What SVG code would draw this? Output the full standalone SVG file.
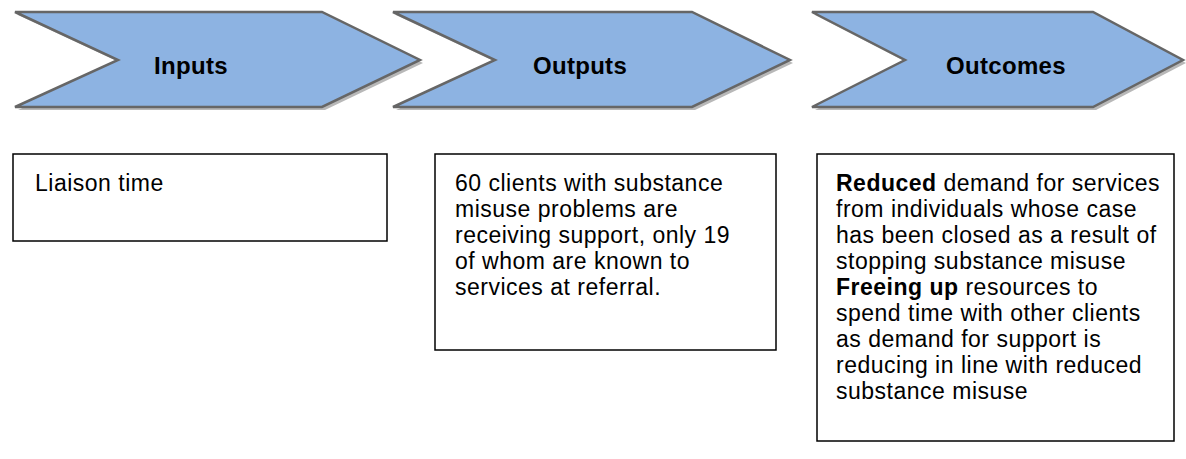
<svg xmlns="http://www.w3.org/2000/svg" width="1186" height="459" viewBox="0 0 1186 459">
<style>
.chev{fill:#8DB3E2;stroke:#666666;stroke-width:2.5;stroke-linejoin:miter}
.shadow{fill:#A6A6A6;opacity:0.8}
.head{font-family:"Liberation Sans",Arial,sans-serif;font-weight:bold;font-size:24px;letter-spacing:0.3px;fill:#000;text-anchor:middle}
.box{fill:#fff;stroke:#000;stroke-width:1.5}
.body{font-family:"Liberation Sans",Arial,sans-serif;font-size:23px;letter-spacing:0.5px;fill:#000}
.b{font-weight:bold}
</style>
<rect width="1186" height="459" fill="#fff"/>
<g id="chevron-inputs">
<polygon class="shadow" points="18,15 325,15 423,63 325,110 18,110 121,63"/>
<polygon class="chev" points="15,12 322,12 420,60 322,107 15,107 118,60"/>
<text class="head" x="191" y="74">Inputs</text>
</g>
<g id="chevron-outputs">
<polygon class="shadow" points="396,15 695,15 793,63 695,110 396,110 498,63"/>
<polygon class="chev" points="393,12 692,12 790,60 692,107 393,107 495,60"/>
<text class="head" x="580" y="74">Outputs</text>
</g>
<g id="chevron-outcomes">
<polygon class="shadow" points="815,15 1096,15 1186,63 1096,110 815,110 908,63"/>
<polygon class="chev" points="812,12 1093,12 1183,60 1093,107 812,107 905,60"/>
<text class="head" x="1006" y="74">Outcomes</text>
</g>
<g id="box-inputs">
<rect class="box" x="13" y="154" width="374" height="87"/>
<text class="body" x="35" y="191">Liaison time</text>
</g>
<g id="box-outputs">
<rect class="box" x="435" y="154" width="341" height="196"/>
<text class="body" x="455" y="191">60 clients with substance</text>
<text class="body" x="455" y="217">misuse problems are</text>
<text class="body" x="455" y="243">receiving support, only 19</text>
<text class="body" x="455" y="269">of whom are known to</text>
<text class="body" x="455" y="295">services at referral.</text>
</g>
<g id="box-outcomes">
<rect class="box" x="817" y="154" width="357" height="287"/>
<text class="body" x="836" y="191"><tspan class="b">Reduced</tspan> demand for services</text>
<text class="body" x="836" y="217">from individuals whose case</text>
<text class="body" x="836" y="243">has been closed as a result of</text>
<text class="body" x="836" y="269">stopping substance misuse</text>
<text class="body" x="836" y="295"><tspan class="b">Freeing up</tspan> resources to</text>
<text class="body" x="836" y="321">spend time with other clients</text>
<text class="body" x="836" y="347">as demand for support is</text>
<text class="body" x="836" y="373">reducing in line with reduced</text>
<text class="body" x="836" y="399">substance misuse</text>
</g>
<g id="connectors"></g>
</svg>
